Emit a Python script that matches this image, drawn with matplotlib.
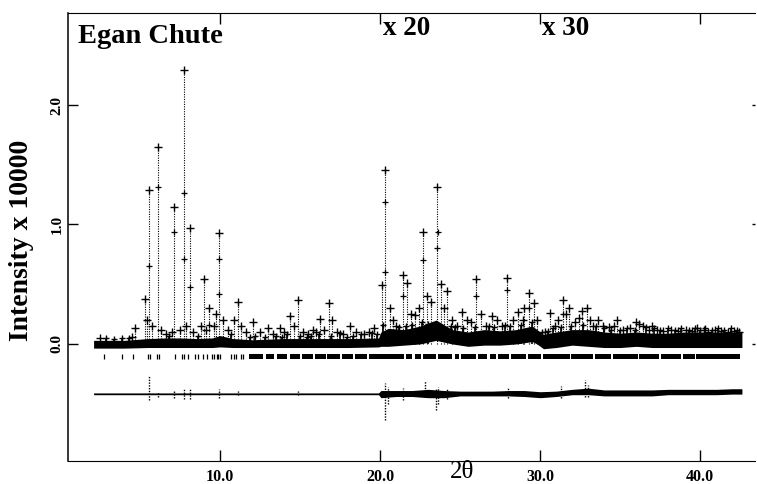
import numpy as np
import matplotlib.pyplot as plt
from matplotlib import rcParams

rcParams['font.family'] = 'serif'
rcParams['font.serif'] = ['Liberation Serif', 'DejaVu Serif']
rcParams['font.weight'] = 'bold'

# main peaks: 2theta, intensity (x 10000)
peak_x = [4.69, 5.30, 5.58, 6.10, 7.14, 7.75, 8.13, 9.02, 9.31, 9.96, 11.1,
          12.05, 13.0, 13.75, 14.4, 14.9, 15.8, 16.25, 16.8, 18.1, 19.6,
          20.1, 20.3, 21.4, 21.7, 22.2, 22.65, 23.54, 24.2, 25.1, 26.0, 27.0,
          27.9, 28.6, 29.3, 29.6, 30.6, 31.4, 31.8, 32.6, 32.9, 33.6, 34.3,
          34.8, 36.0, 36.4, 37.0, 40.2]
peak_y = [0.13, 0.38, 1.29, 1.65, 1.15, 2.29, 0.97, 0.54, 0.30, 0.93, 0.35,
          0.18, 0.13, 0.13, 0.23, 0.37, 0.12, 0.21, 0.34, 0.15, 0.13,
          0.49, 1.46, 0.58, 0.51, 0.24, 0.94, 1.31, 0.44, 0.27, 0.54, 0.23,
          0.55, 0.27, 0.43, 0.34, 0.26, 0.37, 0.30, 0.28, 0.30, 0.20, 0.14,
          0.20, 0.18, 0.15, 0.15, 0.12]

# extra observed points part way up the big peaks
mid_x = [5.58, 6.10, 7.14, 7.75, 7.75, 8.13, 9.96, 9.96, 9.31, 20.3, 20.3,
         22.65, 23.6, 23.54, 26.0, 27.9, 21.4, 29.3, 31.4]
mid_y = [0.65, 1.31, 0.94, 1.26, 0.71, 0.48, 0.71, 0.42, 0.16, 1.19, 0.60,
         0.70, 0.94, 0.80, 0.40, 0.45, 0.40, 0.30, 0.25]

# small peaks close to the background
small_x = [2.5, 4.5, 5.45, 5.75, 6.3, 6.6, 7.0, 7.5, 7.9, 8.3, 8.8, 9.15,
           9.6, 9.75, 10.2, 10.5, 10.9, 11.3, 11.6, 12.5, 13.3, 14.0, 14.6,
           15.2, 15.5, 16.0, 16.5, 17.0, 17.3, 17.7, 18.5, 19.0, 19.3,
           20.6, 20.8, 21.0, 21.9, 22.4, 22.9, 23.2, 23.8, 24.0, 24.5, 24.8,
           25.4, 25.7, 26.3, 26.6, 27.3, 27.6, 28.3, 28.9, 29.0, 29.8, 30.3,
           30.9, 31.1, 31.6, 32.2, 32.4, 33.1, 33.3, 33.9, 34.6, 35.2, 35.6,
           36.2, 36.8, 37.3, 37.7, 38.2, 38.6, 39.1, 39.5, 39.8, 40.5, 40.9,
           41.3, 41.7, 42.1, 42.4]
small_y = [0.05, 0.06, 0.20, 0.15, 0.12, 0.08, 0.10, 0.12, 0.15, 0.10, 0.15,
           0.12, 0.15, 0.25, 0.20, 0.12, 0.20, 0.15, 0.10, 0.10, 0.08, 0.10,
           0.15, 0.10, 0.08, 0.10, 0.12, 0.20, 0.10, 0.08, 0.10, 0.08, 0.10,
           0.30, 0.20, 0.15, 0.25, 0.30, 0.40, 0.35, 0.50, 0.30, 0.20, 0.15,
           0.20, 0.18, 0.25, 0.15, 0.20, 0.15, 0.20, 0.20, 0.30, 0.20, 0.10,
           0.15, 0.20, 0.25, 0.18, 0.22, 0.20, 0.15, 0.15, 0.15, 0.12, 0.13,
           0.17, 0.12, 0.12, 0.11, 0.12, 0.11, 0.12, 0.11, 0.13, 0.10, 0.12,
           0.11, 0.10, 0.11, 0.10]

# tiny bumps on top of the background band
tiny_x = [2.9, 3.4, 3.9, 4.3, 6.8, 8.6, 10.7, 11.9, 12.2, 12.8, 13.5, 13.9,
          14.2, 15.0, 15.4, 15.7, 16.2, 16.9, 17.5, 17.9, 18.3, 18.8, 19.5,
          19.8, 20.2, 21.2, 21.6, 22.0, 22.6, 23.0, 24.4, 24.7, 25.2, 25.9,
          26.8, 27.1, 27.8, 28.1, 28.8, 29.5, 30.1, 30.5, 30.8, 31.3, 31.9,
          32.7, 33.5, 34.0, 34.4, 35.0, 35.4, 35.9, 36.6, 37.1, 37.5, 38.0,
          38.4, 38.8, 39.3, 39.7, 40.0, 40.3, 40.7, 41.1, 41.5, 41.9, 42.3]
tiny_y = [0.05, 0.045, 0.05, 0.05, 0.07, 0.07, 0.08, 0.06, 0.07, 0.06, 0.07,
          0.06, 0.08, 0.07, 0.06, 0.07, 0.08, 0.07, 0.09, 0.06, 0.07, 0.08,
          0.09, 0.08, 0.16, 0.14, 0.15, 0.16, 0.18, 0.17, 0.15, 0.14, 0.13,
          0.14, 0.15, 0.14, 0.16, 0.15, 0.16, 0.18, 0.10, 0.11, 0.13, 0.14,
          0.15, 0.16, 0.15, 0.13, 0.12, 0.12, 0.13, 0.12, 0.14, 0.13, 0.12,
          0.13, 0.12, 0.13, 0.12, 0.13, 0.12, 0.13, 0.12, 0.13, 0.12, 0.13,
          0.12]

# noisy background band
bg_x = [2.1, 4.0, 5.5, 6.5, 7.5, 8.5, 9.5, 10.0, 10.8, 12.0, 14.0, 16.0,
        18.0, 19.9, 20.05, 20.5, 21.5, 22.5, 23.5, 24.5, 25.5, 26.5, 27.5,
        28.5, 29.5, 29.8, 30.2, 31.0, 32.0, 33.0, 34.0, 35.0, 36.0, 37.0,
        38.0, 39.0, 40.0, 41.0, 42.0, 42.6]
bg_lo = [-0.035, -0.035, -0.03, -0.03, -0.03, -0.03, -0.03, -0.025, -0.03,
         -0.03, -0.03, -0.03, -0.03, -0.025, -0.02, -0.02, -0.01, 0.0, 0.03,
         0.0, -0.02, -0.01, -0.01, 0.0, 0.02, 0.0, -0.04, -0.03, -0.01,
         -0.02, -0.03, -0.03, -0.02, -0.03, -0.03, -0.03, -0.03, -0.03,
         -0.03, -0.03]
bg_hi = [0.03, 0.03, 0.045, 0.05, 0.05, 0.045, 0.05, 0.07, 0.045, 0.035,
         0.045, 0.045, 0.045, 0.05, 0.10, 0.13, 0.12, 0.15, 0.20, 0.12,
         0.10, 0.12, 0.11, 0.12, 0.15, 0.12, 0.08, 0.10, 0.12, 0.12, 0.10,
         0.09, 0.10, 0.09, 0.09, 0.10, 0.10, 0.10, 0.10, 0.10]

# reflection markers: single ticks at low angle, dense bands above
refl_x = [2.75, 3.86, 4.58, 5.52, 5.62, 6.08, 6.2, 7.19, 7.6, 7.75, 8.0,
          8.44, 8.64, 8.96, 9.17, 9.5, 9.62, 9.78, 9.9, 10.0, 10.7, 10.85,
          11.0, 11.3, 11.45]
refl_bands = [(11.8, 12.7), (12.85, 13.4), (13.55, 14.2), (14.35, 15.0),
              (15.1, 15.8), (15.95, 16.6), (16.7, 17.5), (17.6, 18.3),
              (18.45, 19.2), (19.3, 21.5), (21.62, 22.0), (22.15, 22.55),
              (22.7, 23.5), (23.6, 24.5), (24.65, 24.9), (25.05, 26.0),
              (26.1, 26.7), (26.85, 27.25), (27.35, 28.05), (28.15, 29.1),
              (29.25, 30.05), (30.15, 31.85), (31.95, 33.28), (33.4, 34.45),
              (34.55, 36.1), (36.2, 37.45), (37.55, 38.8), (38.9, 39.65),
              (39.75, 42.5)]

# difference curve
diff_x = [2.1, 5.0, 10.0, 15.0, 19.9, 20.05, 21.0, 22.0, 23.0, 24.0, 25.0,
          26.0, 27.0, 28.0, 29.0, 30.0, 31.0, 32.0, 33.0, 34.0, 35.0, 36.0,
          37.0, 38.0, 39.0, 40.0, 41.0, 42.0, 42.6]
diff_lo = [-0.425, -0.425, -0.425, -0.425, -0.425, -0.45, -0.44, -0.44,
           -0.45, -0.45, -0.435, -0.435, -0.435, -0.435, -0.44, -0.45, -0.44,
           -0.425, -0.425, -0.435, -0.435, -0.435, -0.435, -0.425, -0.425,
           -0.425, -0.425, -0.42, -0.42]
diff_hi = [-0.41, -0.41, -0.41, -0.41, -0.41, -0.39, -0.39, -0.39, -0.38,
           -0.39, -0.395, -0.395, -0.395, -0.39, -0.39, -0.40, -0.395, -0.38,
           -0.37, -0.385, -0.385, -0.385, -0.385, -0.38, -0.38, -0.38, -0.38,
           -0.375, -0.375]
spike_x = [5.58, 6.10, 7.14, 7.75, 8.13, 9.96, 11.1, 14.9, 20.3, 20.5, 21.4,
           22.8, 23.5, 23.6, 24.2, 28.0, 31.3, 32.8, 33.0]
spike_lo = [-0.47, -0.44, -0.45, -0.46, -0.46, -0.45, -0.43, -0.43, -0.64,
            -0.50, -0.47, -0.44, -0.55, -0.50, -0.46, -0.45, -0.45, -0.44,
            -0.44]
spike_hi = [-0.26, -0.40, -0.39, -0.38, -0.38, -0.38, -0.39, -0.39, -0.33,
            -0.36, -0.37, -0.31, -0.37, -0.36, -0.37, -0.36, -0.35, -0.30,
            -0.34]

x_ticks = [10, 20, 30, 40]
y_ticks = [0, 1, 2]

fig = plt.figure(figsize=(7.57, 4.84), dpi=100)
ax = fig.add_axes([0.0898, 0.0475, 0.9072, 0.9255])

ax.fill_between(bg_x, bg_lo, bg_hi, color='k', lw=0)
ax.vlines(tiny_x, 0, tiny_y, colors='k', lw=1.2)
ax.plot(tiny_x, tiny_y, '+', color='k', ms=5, mew=1.0)
ax.vlines(small_x, 0, small_y, colors='k', linestyles=(0, (1, 1.2)), lw=0.8)
ax.plot(small_x, small_y, '+', color='k', ms=6, mew=1.0)
ax.vlines(peak_x, 0, peak_y, colors='k', linestyles=(0, (1, 1.2)), lw=0.8)
ax.plot(peak_x, peak_y, '+', color='k', ms=6, mew=1.0)
ax.plot(mid_x, mid_y, '+', color='k', ms=5, mew=0.9)

ax.vlines(refl_x, -0.125, -0.085, colors='k', lw=0.9)
ax.broken_barh([(a, b - a) for a, b in refl_bands], (-0.125, 0.04),
               facecolors='k')

ax.fill_between(diff_x, diff_lo, diff_hi, color='k', lw=0)
ax.vlines(spike_x, spike_lo, spike_hi, colors='k', linestyles=(0, (1, 1)),
          lw=1.0)

ax.set_xlim(0.5, 43.4)
ax.set_ylim(-0.98, 2.77)
ax.set_xticks(x_ticks)
ax.set_xticklabels(['%.1f' % v for v in x_ticks])
ax.set_yticks(y_ticks)
ax.set_yticklabels(['%.1f' % v for v in y_ticks], rotation=90, va='center')
ax.tick_params(axis='x', direction='in', length=8, width=1, top=True,
               pad=6, labelsize=11.5)
ax.tick_params(axis='y', direction='in', length=7, width=1, right=True,
               pad=3, labelsize=11)
for t in ax.yaxis.get_ticklines()[1::2]:
    t.set_markersize(2)

ax.spines['right'].set_visible(False)
ax.spines['top'].set_linestyle((0, (2, 1)))
ax.spines['bottom'].set_linestyle((0, (2, 1)))
ax.spines['top'].set_linewidth(0.8)
ax.spines['bottom'].set_linewidth(0.8)
ax.spines['left'].set_linewidth(1.1)

ax.text(1.1, 2.52, 'Egan Chute', fontsize=20.5, va='baseline', ha='left')
ax.text(20.2, 2.585, 'x 20', fontsize=19.5, va='baseline', ha='left')
ax.text(30.1, 2.585, 'x 30', fontsize=19.5, va='baseline', ha='left')

fig.text(22 / 757, 1 - 240 / 484, 'Intensity x 10000', rotation=90,
         ha='center', va='center', fontsize=20)
fig.text(462 / 757, 1 - 478 / 484, '2θ', fontweight='normal',
         ha='center', va='baseline', fontsize=18)

fig.savefig('out.png', dpi=100)
